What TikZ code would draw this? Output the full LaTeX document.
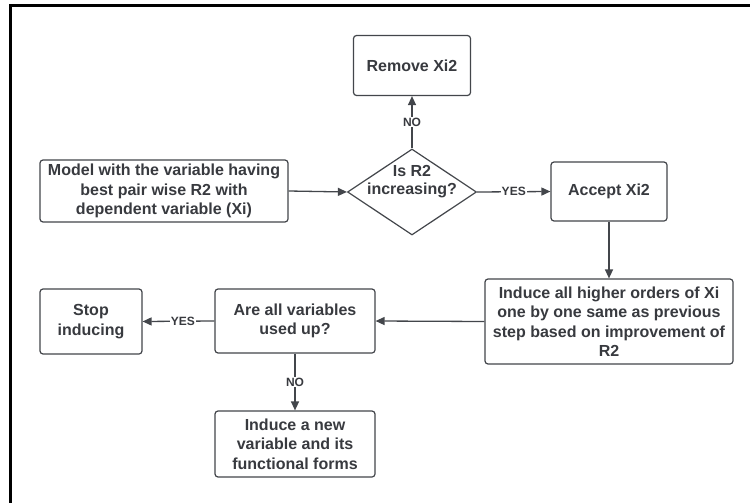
\documentclass[tikz,border=0pt]{standalone}
\usepackage{fontspec}
\setmainfont{Liberation Sans}
\usetikzlibrary{shapes.geometric,arrows.meta}
\definecolor{ink}{HTML}{383A3F}
\definecolor{edge}{HTML}{43464B}
\tikzset{
  box/.style={draw=edge, line width=1.2pt, rounded corners=3pt, fill=white,
    align=center, text=ink, inner sep=2pt,
    font=\bfseries\fontsize{16}{19.5}\selectfont},
  decision/.style={draw=edge, line width=1.2pt, diamond, inner sep=0pt, fill=white,
    text=ink, font=\bfseries\fontsize{16}{19.5}\selectfont},
  conn/.style={draw=edge, line width=1.3pt, -{Triangle[length=9pt,width=8pt]}},
  lbl/.style={fill=white, inner sep=1pt, text=ink, font=\bfseries\fontsize{12}{14}\selectfont}
}
\begin{document}
\begin{tikzpicture}[x=1pt,y=-1pt]
\useasboundingbox (0,0) rectangle (750,503);
\fill[white] (0,0) rectangle (750,503);
\coordinate (fa) at (10.5,503);
\coordinate (fb) at (10.5,5.5);
\coordinate (fc) at (750,5.5);
\draw[black, line width=2.2pt] (fa) -- (fb) -- (fc);

\node[box, minimum width=117pt, minimum height=60pt] (remove) at (412,65.5) {Remove Xi2};
\node[decision, minimum width=129pt, minimum height=86pt] (dec) at (412,192)
  {\makebox[0pt]{\smash{\raisebox{6pt}{\begin{tabular}{@{}c@{}}Is R2\\[-1pt]increasing?\end{tabular}}}}};
\node[box, minimum width=248pt, minimum height=62pt] (model) at (164,191) {Model with the variable having\\best pair wise R2 with\\dependent variable (Xi)};
\node[box, minimum width=116pt, minimum height=59pt] (accept) at (609,191.5) {Accept Xi2};
\node[box, minimum width=248pt, minimum height=85pt] (higher) at (609,321.5) {Induce all higher orders of Xi\\one by one same as previous\\step based on improvement of\\R2};
\node[box, minimum width=160pt, minimum height=64pt] (areall) at (295,321) {Are all variables\\used up?};
\node[box, minimum width=102pt, minimum height=65pt] (stop) at (91,321.5) {Stop\\inducing};
\node[box, minimum width=160pt, minimum height=66pt] (newvar) at (295,444) {Induce a new\\variable and its\\functional forms};

\draw[conn] (model.east) -- (dec.west);
\draw[conn] (dec.east) -- node[lbl] {YES} (accept.west);
\draw[conn] (dec.north) -- node[lbl, pos=0.5] {NO} (remove.south);
\draw[conn] (accept.south) -- (higher.north);
\draw[conn] (higher.west) -- (areall.east);
\draw[conn] (areall.west) -- node[lbl, pos=0.44] {YES} (stop.east);
\draw[conn] (areall.south) -- node[lbl] {NO} (newvar.north);
\end{tikzpicture}
\end{document}
